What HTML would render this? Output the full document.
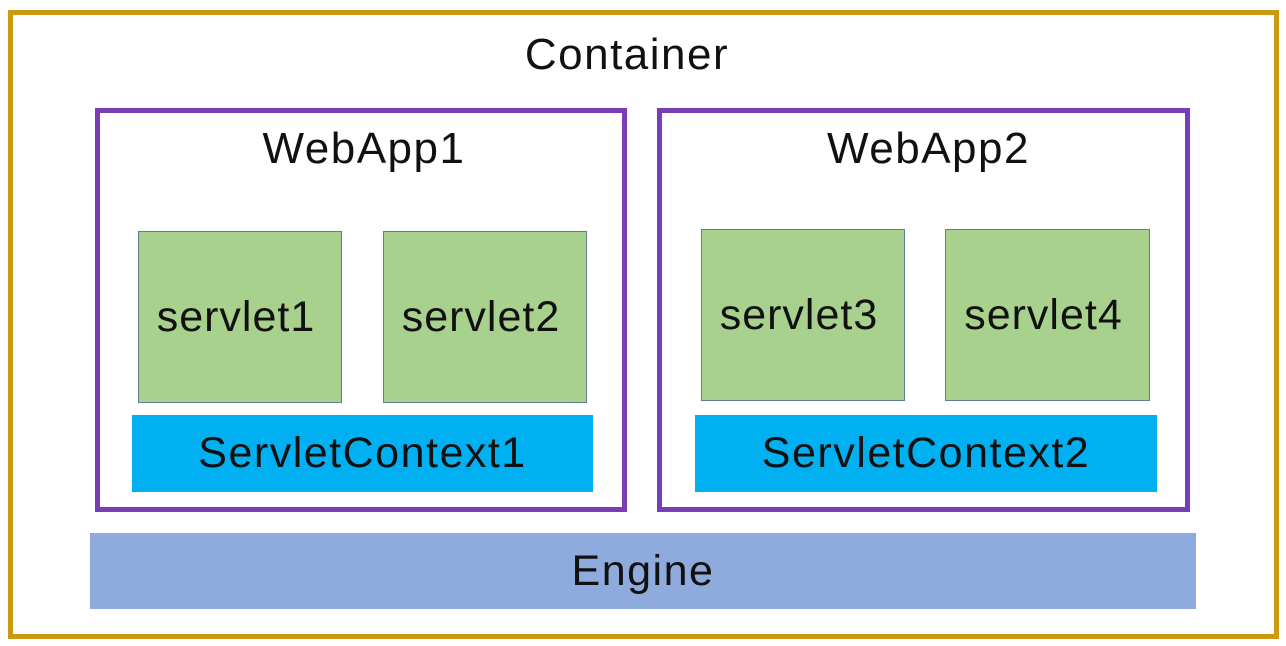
<!DOCTYPE html>
<html><head><style>
body{margin:0;width:1286px;height:646px;background:#fff;position:relative;overflow:hidden;font-family:"Liberation Sans","DejaVu Sans",sans-serif;color:#111}
div{position:absolute;box-sizing:border-box}
.t{display:flex;align-items:center;justify-content:center}
.wa{border:5px solid #7a3db8}
.sv{background:#a9d18e;border:1.5px solid #5f7f8f;font-size:43px;letter-spacing:1px;padding-right:8px}
.sc{background:#00b0f0;font-size:43px;letter-spacing:1.5px}
</style></head><body>
<div style="left:8px;top:10px;width:1271px;height:629px;border:5px solid #cc9a10"></div>
<div class="t" style="left:0;top:30px;width:1254px;height:50px;font-size:44px;letter-spacing:1.5px">Container</div>
<div class="wa" style="left:95px;top:108px;width:532px;height:404px"></div>
<div class="t" style="left:95px;top:124px;width:538px;height:50px;font-size:44px;letter-spacing:1.5px">WebApp1</div>
<div class="wa" style="left:657px;top:108px;width:533px;height:404px"></div>
<div class="t" style="left:657px;top:124px;width:543px;height:50px;font-size:44px;letter-spacing:1.5px">WebApp2</div>
<div class="sv t" style="left:138px;top:231px;width:204px;height:172px">servlet1</div>
<div class="sv t" style="left:383px;top:231px;width:204px;height:172px">servlet2</div>
<div class="sv t" style="left:701px;top:229px;width:204px;height:172px">servlet3</div>
<div class="sv t" style="left:945px;top:229px;width:205px;height:172px">servlet4</div>
<div class="sc t" style="left:132px;top:415px;width:461px;height:77px">ServletContext1</div>
<div class="sc t" style="left:695px;top:415px;width:462px;height:77px">ServletContext2</div>
<div class="t" style="left:90px;top:533px;width:1106px;height:76px;background:#8faadc;font-size:43px;letter-spacing:1.5px">Engine</div>
</body></html>
